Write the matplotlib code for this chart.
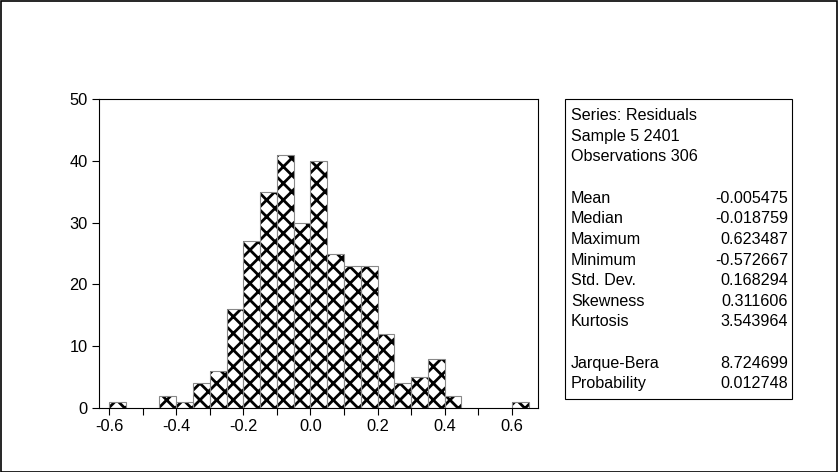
import matplotlib
matplotlib.use("Agg")
import matplotlib.pyplot as plt
from matplotlib.patches import Rectangle

# histogram of residuals, bin width 0.05, left edges
bin_left = [-0.60, -0.55, -0.50, -0.45, -0.40, -0.35, -0.30, -0.25, -0.20, -0.15,
            -0.10, -0.05, 0.00, 0.05, 0.10, 0.15, 0.20, 0.25, 0.30, 0.35,
            0.40, 0.45, 0.50, 0.55, 0.60]
counts = [1, 0, 0, 2, 1, 4, 6, 16, 27, 35,
          41, 30, 40, 25, 23, 23, 12, 4, 5, 8,
          2, 0, 0, 0, 1]
bin_width = 0.05

x_ticks = [-0.6, -0.5, -0.4, -0.3, -0.2, -0.1, 0.0, 0.1, 0.2, 0.3, 0.4, 0.5, 0.6]
x_labels = ["-0.6", "", "-0.4", "", "-0.2", "", "0.0", "", "0.2", "", "0.4", "", "0.6"]
y_ticks = [0, 10, 20, 30, 40, 50]

header_lines = ["Series: Residuals", "Sample 5 2401", "Observations 306"]
stat_names = ["Mean", "Median", "Maximum", "Minimum", "Std. Dev.", "Skewness", "Kurtosis"]
stat_values = ["-0.005475", "-0.018759", "0.623487", "-0.572667", "0.168294", "0.311606", "3.543964"]
test_names = ["Jarque-Bera", "Probability"]
test_values = ["8.724699", "0.012748"]

plt.rcParams["font.family"] = ["Liberation Sans", "DejaVu Sans"]
plt.rcParams["hatch.linewidth"] = 2.0

W, H = 838, 472
fig = plt.figure(figsize=(W / 100, H / 100), dpi=100)
fig.patches.append(Rectangle((0.5 / W, 0.5 / H), 1 - 1.5 / W, 1 - 1.5 / H,
                             transform=fig.transFigure, fill=False,
                             edgecolor="black", linewidth=1.2))

ax = fig.add_axes([99 / W, 1 - 408 / H, (538 - 99) / W, (408 - 99) / H])
nz = [c > 0 for c in counts]
xs = [b for b, k in zip(bin_left, nz) if k]
hs = [c for c, k in zip(counts, nz) if k]
# hatch fill, then thin grey outlines
ax.bar(xs, hs, width=bin_width, align="edge", color="white",
       edgecolor="black", linewidth=0, hatch="xx")
ax.bar(xs, hs, width=bin_width, align="edge", fill=False,
       edgecolor="#888888", linewidth=0.8)

ax.set_xlim(-0.63, 0.678)
ax.set_ylim(0, 50)
ax.set_xticks(x_ticks)
ax.set_xticklabels(x_labels)
ax.set_yticks(y_ticks)
ax.tick_params(direction="out", length=5, width=0.8, labelsize=11.8, pad=3)
for s in ax.spines.values():
    s.set_linewidth(0.8)

# statistics box
fig.patches.append(Rectangle((565 / W, 1 - 399 / H), (792 - 565) / W, (399 - 99) / H,
                             transform=fig.transFigure, fill=False,
                             edgecolor="black", linewidth=0.8))
fs = 11.6
step = 20.6
y0 = 115.5
for i, t in enumerate(header_lines):
    fig.text(571 / W, 1 - (y0 + i * step) / H, t, fontsize=fs, va="center")
y1 = 198.3
for i, (n, v) in enumerate(zip(stat_names, stat_values)):
    y = 1 - (y1 + i * step) / H
    fig.text(571 / W, y, n, fontsize=fs, va="center")
    fig.text(788 / W, y, v, fontsize=fs, va="center", ha="right")
y2 = 363.3
for i, (n, v) in enumerate(zip(test_names, test_values)):
    y = 1 - (y2 + i * step) / H
    fig.text(571 / W, y, n, fontsize=fs, va="center")
    fig.text(788 / W, y, v, fontsize=fs, va="center", ha="right")

fig.savefig("out.png", dpi=100)
